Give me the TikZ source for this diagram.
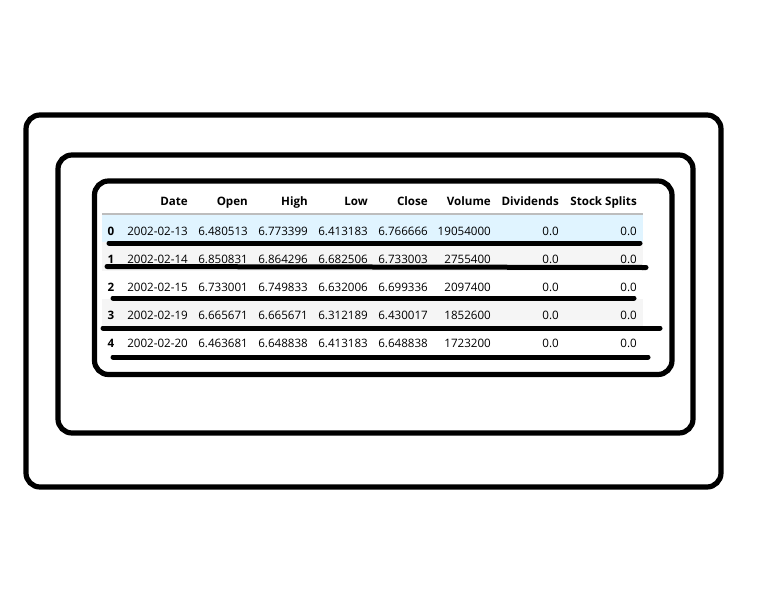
\documentclass[tikz,border=0pt]{standalone}
\usepackage{fontspec}
\setmainfont{Open Sans}
\usepackage{xcolor}
\usepackage{tikz}
\usetikzlibrary{positioning, calc}

\begin{document}
\begin{tikzpicture}[x=1pt, y=-1pt]
        % Colours
        \definecolor{rowblue}{RGB}{224, 244, 255}
        \definecolor{rowgray}{RGB}{245, 245, 245}
        \definecolor{rulegray}{RGB}{189, 189, 189}

        \tikzset{
            frame/.style={draw=black, line width=5.2pt, rounded corners=14pt},
            stroke/.style={draw=black, line width=5pt, line cap=round},
            cell/.style={anchor=base east, inner sep=0pt, text=black, font=\fontsize{11.6}{14}\selectfont},
            headcell/.style={cell, font=\fontsize{11.6}{14}\selectfont\bfseries},
            idxcell/.style={headcell, anchor=base west}
        }

        \useasboundingbox (0,0) rectangle (768,614);

        % 1. The three nested frames
        \draw[frame] (26,115) rectangle (721,487);
        \draw[frame] (58,155) rectangle (693,433);
        \draw[frame] (94.5,181) rectangle (672,374.5);

        % 2. Row bands and header rule
        \fill[rowblue] (102,214) rectangle (643,242);
        \fill[rowgray] (102,242) rectangle (643,270.5);
        \fill[rowgray] (102,298.5) rectangle (643,327);
        \draw[rulegray, line width=1.2pt] (102,214) -- (643,214);

        % 3. Header
        \foreach \name/\x [count=\j] in {Date/188, Open/248, High/308, Low/368, Close/428, Volume/491, Dividends/559, Stock Splits/637} {
            \node[headcell] (head-\j) at (\x, 205) {\name};
        }

        % 4. Rows (index, date, open, high, low, close, volume)
        \foreach \dt/\op/\hi/\lo/\cl/\vol [count=\i from 0] in {
            2002-02-13/6.480513/6.773399/6.413183/6.766666/19054000,
            2002-02-14/6.850831/6.864296/6.682506/6.733003/2755400,
            2002-02-15/6.733001/6.749833/6.632006/6.699336/2097400,
            2002-02-19/6.665671/6.665671/6.312189/6.430017/1852600,
            2002-02-20/6.463681/6.648838/6.413183/6.648838/1723200} {
            \pgfmathsetmacro{\yb}{235 + 28*\i}
            \node[idxcell] (idx-\i) at (107.5, \yb) {\i};
            \node[cell] (date-\i) at (188, \yb) {\dt};
            \node[cell] (open-\i) at (248, \yb) {\op};
            \node[cell] (high-\i) at (308, \yb) {\hi};
            \node[cell] (low-\i) at (368, \yb) {\lo};
            \node[cell] (close-\i) at (428, \yb) {\cl};
            \node[cell] (vol-\i) at (491, \yb) {\vol};
            \node[cell] (div-\i) at (559, \yb) {0.0};
            \node[cell] (split-\i) at (637, \yb) {0.0};
        }

        % 5. Thick strokes under the rows
        \foreach \xa/\ya/\xb/\yb in {109/243/640/243, 107/266.5/646/267.5, 113/298/634/298, 103/328/660/328, 113/357/648/357} {
            \draw[stroke] (\xa,\ya) -- (\xb,\yb);
        }

    \end{tikzpicture}
\end{document}
